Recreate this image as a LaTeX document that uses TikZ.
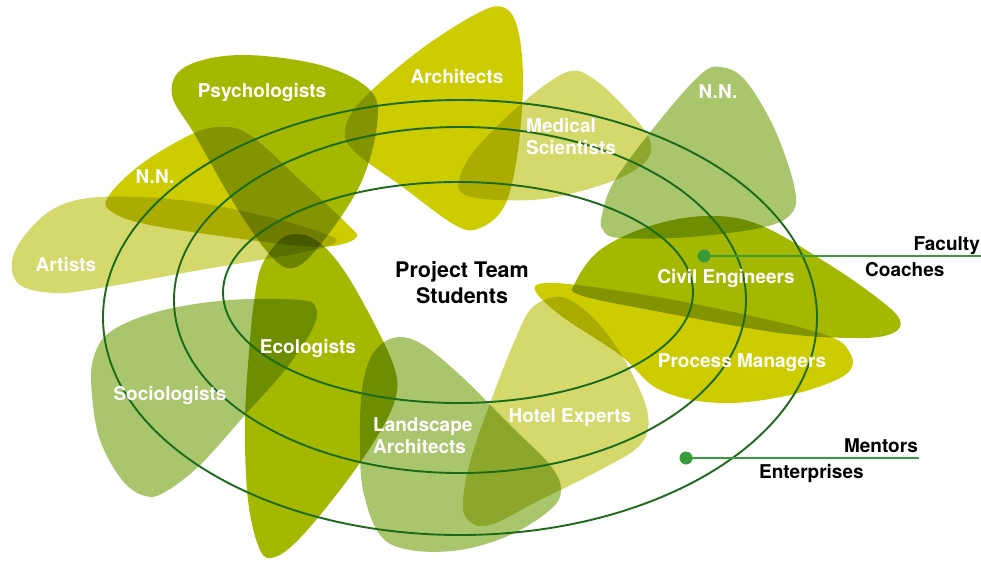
\documentclass[tikz,border=0pt]{standalone}
\usepackage{fontspec}
\setmainfont{TeX Gyre Heros}

\definecolor{grpYellow}{HTML}{CCCC00}
\definecolor{grpLime}{HTML}{A5B800}
\definecolor{grpPale}{HTML}{D5D86B}
\definecolor{grpSage}{HTML}{A9C66C}
\definecolor{ringGreen}{HTML}{1B6B1B}
\definecolor{leadGreen}{HTML}{389A38}

\tikzset{
  blob/.style={fill=#1},
  ring/.style={draw=ringGreen, line width=1.9pt},
  grouptext/.style={text=white, font=\fontsize{19}{22}\selectfont\bfseries, inner sep=0pt, align=left},
  roletext/.style={text=black, font=\fontsize{19}{22}\selectfont\bfseries, inner sep=0pt},
  teamtext/.style={text=black, font=\fontsize{21.5}{26}\selectfont\bfseries, inner sep=0pt, align=center},
  leader/.style={draw=leadGreen, line width=2.6pt},
  leaddot/.style={fill=leadGreen}
}

\begin{document}
\begin{tikzpicture}[x=1pt, y=-1pt]
  \useasboundingbox (0,0) rectangle (981,560);

  % the disciplines
  \begin{scope}[blend mode=multiply]
    \fill[blob=grpPale] plot[smooth cycle, tension=0.6] coordinates {(12,262) (25,235) (55,208) (100,197) (180,200) (260,215) (320,232) (336,242) (300,253) (200,270) (100,288) (55,293) (20,285)};
    \fill[blob=grpYellow] plot[smooth cycle, tension=0.6] coordinates {(108,197) (140,165) (190,135) (220,127) (250,135) (300,180) (345,222) (356,238) (320,247) (250,240) (150,225) (112,212)};
    \fill[blob=grpLime] plot[smooth cycle, tension=0.6] coordinates {(172,95) (185,67) (240,55) (320,65) (370,90) (377,125) (360,185) (320,245) (293,268) (270,255) (235,205) (195,135)};
    \fill[blob=grpYellow] plot[smooth cycle, tension=0.6] coordinates {(345,130) (362,100) (420,50) (480,12) (505,8) (518,30) (523,80) (518,150) (505,205) (480,228) (455,225) (400,185) (355,152)};
    \fill[blob=grpPale] plot[smooth cycle, tension=0.6] coordinates {(459,180) (475,150) (520,105) (567,72) (595,80) (630,113) (650,140) (645,162) (610,182) (550,198) (500,200) (465,195)};
    \fill[blob=grpSage] plot[smooth cycle, tension=0.6] coordinates {(602,215) (615,180) (660,120) (700,75) (720,67) (745,80) (775,130) (795,190) (790,215) (760,228) (690,237) (620,238) (603,230)};
    \fill[blob=grpLime] plot[smooth cycle, tension=0.6] coordinates {(575,283) (600,250) (650,226) (707,216) (760,225) (830,265) (880,300) (900,320) (893,333) (860,338) (780,333) (650,310) (580,295)};
    \fill[blob=grpYellow] plot[smooth cycle, tension=0.6] coordinates {(535,290) (548,283) (600,288) (700,305) (820,333) (850,353) (845,375) (790,395) (720,403) (660,390) (620,355) (560,315)};
    \fill[blob=grpPale] plot[smooth cycle, tension=0.6] coordinates {(530,310) (550,298) (570,300) (600,325) (630,370) (648,415) (640,445) (600,470) (540,500) (490,525) (468,520) (463,500) (472,455) (495,390) (515,340)};
    \fill[blob=grpSage] plot[smooth cycle, tension=0.6] coordinates {(362,390) (372,355) (393,338) (420,343) (460,375) (510,425) (550,465) (561,490) (550,510) (510,535) (460,550) (410,550) (380,535) (363,490) (360,440)};
    \fill[blob=grpLime] plot[smooth cycle, tension=0.6] coordinates {(262,265) (280,240) (298,234) (320,243) (345,272) (375,325) (395,370) (395,400) (375,440) (340,490) (300,538) (275,557) (260,550) (248,500) (245,420) (250,340) (255,295)};
    \fill[blob=grpSage] plot[smooth cycle, tension=0.6] coordinates {(93,360) (110,332) (160,311) (230,300) (300,300) (316,308) (312,330) (285,370) (245,415) (200,465) (165,492) (145,496) (122,480) (100,440) (92,395)};
  \end{scope}

  % the rings
  \draw[ring] (458,292.5) ellipse [x radius=235, y radius=110.5];
  \draw[ring] (460,300) ellipse [x radius=286, y radius=173];
  \draw[ring] (460,317.5) ellipse [x radius=357, y radius=217.5];

  % leaders
  \coordinate (facdot) at (704,256);
  \coordinate (facend) at (981,256);
  \coordinate (mendot) at (686,458);
  \coordinate (menend) at (919,458);
  \draw[leader] (facdot) -- (facend);
  \draw[leader] (mendot) -- (menend);
  \fill[leaddot] (facdot) circle (6.5);
  \fill[leaddot] (mendot) circle (6.5);

  \node[grouptext, anchor=base] (psych) at (262,97) {Psychologists};
  \node[grouptext, anchor=base] (arch) at (457,83) {Architects};
  \node[grouptext, anchor=base] (nnleft) at (155,183) {N.N.};
  \node[grouptext, anchor=base] (artists) at (66,271) {Artists};
  \node[grouptext, anchor=base] (nnright) at (718,98) {N.N.};
  \node[grouptext, anchor=base west] (medic) at (526,154) {Medical\\Scientists};
  \node[grouptext, anchor=base] (civil) at (726,283) {Civil Engineers};
  \node[grouptext, anchor=base] (process) at (742,367) {Process Managers};
  \node[grouptext, anchor=base] (hotel) at (570,422) {Hotel Experts};
  \node[grouptext, anchor=base west] (landsc) at (373,453) {Landscape\\Architects};
  \node[grouptext, anchor=base] (ecol) at (308,353) {Ecologists};
  \node[grouptext, anchor=base] (socio) at (170,400) {Sociologists};

  \node[teamtext, anchor=base] (team) at (462,303) {Project Team\\Students};

  \node[roletext, anchor=base east] (faculty) at (980,250) {Faculty};
  \node[roletext, anchor=base west] (coaches) at (865,276) {Coaches};
  \node[roletext, anchor=base east] (mentors) at (918,452) {Mentors};
  \node[roletext, anchor=base west] (enterp) at (759,478) {Enterprises};
\end{tikzpicture}
\end{document}
